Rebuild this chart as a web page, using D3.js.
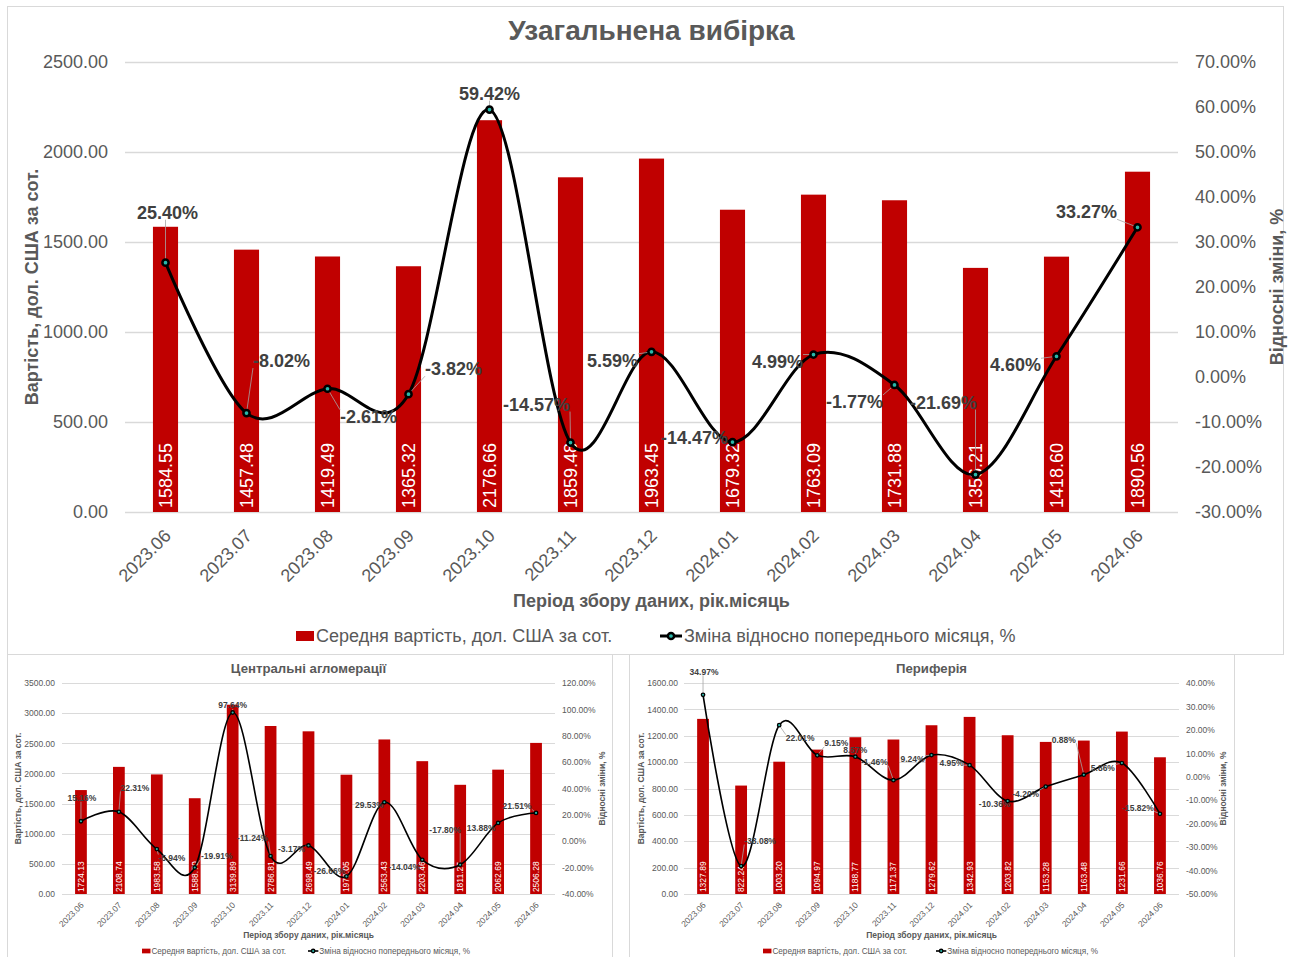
<!DOCTYPE html>
<html>
<head>
<meta charset="UTF-8">
<title>Узагальнена вибірка</title>
<style>
  body { margin: 0; background: #fff; }
  svg text { font-family: "Liberation Sans", Arial, sans-serif; }
</style>
</head>
<body>
<script src="https://cdnjs.cloudflare.com/ajax/libs/d3/7.8.5/d3.min.js"></script>
<script>
// ---- data ----
var months = ["2023.06", "2023.07", "2023.08", "2023.09", "2023.10", "2023.11", "2023.12",
              "2024.01", "2024.02", "2024.03", "2024.04", "2024.05", "2024.06"];

// Узагальнена вибірка
var allCost = [1584.55, 1457.48, 1419.49, 1365.32, 2176.66, 1859.48, 1963.45,
               1679.32, 1763.09, 1731.88, 1356.21, 1418.60, 1890.56];
var allChange = [25.40, -8.02, -2.61, -3.82, 59.42, -14.57, 5.59,
                 -14.47, 4.99, -1.77, -21.69, 4.60, 33.27];

// Центральні агломерації
var centerCost = [1724.13, 2108.74, 1983.58, 1588.70, 3139.89, 2786.81, 2698.49,
                  1979.05, 2563.43, 2203.46, 1811.27, 2062.69, 2506.28];
var centerChange = [15.16, 22.31, -5.94, -19.91, 97.64, -11.24, -3.17,
                    -26.66, 29.53, -14.04, -17.80, 13.88, 21.51];

// Периферія
var periphCost = [1327.89, 822.24, 1003.20, 1094.97, 1188.77, 1171.37, 1279.62,
                  1342.93, 1203.82, 1153.28, 1163.48, 1231.66, 1036.76];
var periphChange = [34.97, -38.08, 22.01, 9.15, 8.57, -1.46, 9.24,
                    4.95, -10.36, -4.20, 0.88, 5.86, -15.82];

// axis ranges [min, max, step]
var allLeftTicks = [0, 2500, 500], allRightTicks = [-30, 70, 10];
var centerLeftTicks = [0, 3500, 500], centerRightTicks = [-40, 120, 20];
var periphLeftTicks = [0, 1600, 200], periphRightTicks = [-50, 40, 10];

var barName = "Середня вартість, дол. США за сот.";
var lineName = "Зміна відносно попереднього місяця, %";
var xTitle = "Період збору даних, рік.місяць";
var yTitle = "Вартість, дол. США за сот.";
var y2Title = "Відносні зміни, %";

// where Excel put the % labels (offset from the point, px)
var allLabelPos = [[2,-50],[35,-52],[41,28],[45,-25],[0,-16],[-34,-38],[-39,9],
                   [-38,-4],[-36,7],[-40,17],[-32,-72],[-41,9],[-51,-15]];
var centerLabelPos = [[1,-23],[16,-24],[15,9],[22,-12],[0,-7],[-18,-18],[-17,4],
                      [-17,-5],[-15,3],[-18,7],[-15,-35],[-17,5],[-19,-7]];
var periphLabelPos = [[1,-23],[19,-25],[21,13],[19,-12],[0,-7],[-19,-18],[-19,4],
                      [-18,-2],[-13,3],[-20,7],[-20,-35],[-19,5],[-22,-6]];

// plain hyphen for negatives, like Excel
var fmt = d3.formatLocale({decimal: ".", thousands: "", grouping: [3], currency: ["", ""], minus: "-"}).format(".2f");

var W = 1294, H = 957;
var svg = d3.select("body").append("svg").attr("width", W).attr("height", H);

// panel frames
var frames = [[7, 6, 1276, 648], [7, 654, 605, 310], [629, 654, 605, 310]];
svg.selectAll(".frame").data(frames).enter().append("rect")
  .attr("x", function(d) { return d[0] + 0.5; })
  .attr("y", function(d) { return d[1] + 0.5; })
  .attr("width", function(d) { return d[2]; })
  .attr("height", function(d) { return d[3]; })
  .attr("fill", "none").attr("stroke", "#d9d9d9");

function tickList(t) { return d3.range(t[0], t[1] + t[2] / 2, t[2]); }

function drawPanel(o) {
  var k = o.scale;
  var g = svg.append("g");
  var x = d3.scalePoint().domain(months).range([o.x0, o.x1]).padding(0.5);
  var y = d3.scaleLinear().domain([o.leftTicks[0], o.leftTicks[1]]).range([o.yBot, o.yTop]);
  var y2 = d3.scaleLinear().domain([o.rightTicks[0], o.rightTicks[1]]).range([o.yBot, o.yTop]);
  var bw = x.step() * 0.31;

  // title
  g.append("text").attr("x", (o.x0 + o.x1) / 2).attr("y", o.titleY)
    .attr("text-anchor", "middle").attr("font-size", o.titleSize).attr("font-weight", "bold")
    .attr("fill", "#595959").text(o.title);

  // gridlines
  g.selectAll(".grid").data(tickList(o.leftTicks)).enter().append("line")
    .attr("x1", o.x0).attr("x2", o.x1)
    .attr("y1", function(d) { return Math.round(y(d)) + 0.5; })
    .attr("y2", function(d) { return Math.round(y(d)) + 0.5; })
    .attr("stroke", "#d9d9d9").attr("stroke-width", 1.2 * k + 0.4);

  // left axis
  var ax = g.append("g").attr("transform", "translate(" + o.x0 + ",0)")
    .call(d3.axisLeft(y).tickValues(tickList(o.leftTicks)).tickFormat(fmt)
      .tickSize(0).tickPadding(o.x0 - o.leftLabelX));
  // right axis
  var ax2 = g.append("g").attr("transform", "translate(" + o.x1 + ",0)")
    .call(d3.axisRight(y2).tickValues(tickList(o.rightTicks))
      .tickFormat(function(d) { return fmt(d) + "%"; })
      .tickSize(0).tickPadding(o.rightLabelX - o.x1));
  // bottom axis
  var ax3 = g.append("g").attr("transform", "translate(0," + o.yBot + ")")
    .call(d3.axisBottom(x).tickSize(0));
  ax3.selectAll("text")
    .attr("x", 0).attr("y", 0).attr("dy", 0)
    .attr("text-anchor", "end")
    .attr("transform", "translate(" + (6 * k) + "," + (25 * k) + ") rotate(-45)");
  [ax, ax2, ax3].forEach(function(a) {
    a.select(".domain").remove();
    a.selectAll("text").attr("font-size", o.tickSize).attr("fill", "#595959")
      .attr("font-family", "Liberation Sans, Arial, sans-serif");
  });

  // bars
  g.selectAll(".bar").data(o.cost).enter().append("rect")
    .attr("x", function(d, i) { return x(months[i]) - bw / 2; })
    .attr("y", function(d) { return y(d); })
    .attr("width", bw)
    .attr("height", function(d) { return o.yBot - y(d); })
    .attr("fill", "#c00000");

  // bar values
  g.selectAll(".barval").data(o.cost).enter().append("text")
    .attr("transform", function(d, i) {
      return "translate(" + x(months[i]) + "," + (o.yBot - 4 * k) + ") rotate(-90)";
    })
    .attr("dominant-baseline", "central")
    .attr("font-size", o.tickSize).attr("fill", "#fff")
    .text(function(d) { return fmt(d); });

  // smoothed line
  var line = d3.line()
    .x(function(d, i) { return x(months[i]); })
    .y(function(d) { return y2(d); })
    .curve(d3.curveCardinal.tension(0));
  g.append("path").datum(o.change).attr("d", line)
    .attr("fill", "none").attr("stroke", "#000").attr("stroke-width", 2.6 * k + 0.4);

  // % labels with leader lines
  var leaders = g.append("g");
  var labels = g.selectAll(".pct").data(o.change).enter().append("text")
    .attr("x", function(d, i) { return x(months[i]) + o.labelPos[i][0]; })
    .attr("y", function(d, i) { return y2(d) + o.labelPos[i][1]; })
    .attr("text-anchor", "middle").attr("dominant-baseline", "central")
    .attr("font-size", o.tickSize).attr("font-weight", "bold").attr("fill", "#404040")
    .text(function(d) { return fmt(d) + "%"; });
  labels.each(function(d, i) {
    var b = this.getBBox();
    var px = x(months[i]), py = y2(d);
    var cx = Math.max(b.x, Math.min(px, b.x + b.width));
    var cy = Math.max(b.y + b.height * 0.15, Math.min(py, b.y + b.height * 0.85));
    if (Math.hypot(px - cx, py - cy) > 6 * k) {
      leaders.append("line").attr("x1", cx).attr("y1", cy).attr("x2", px).attr("y2", py)
        .attr("stroke", "#a6a6a6").attr("stroke-width", 0.8);
    }
  });

  // markers
  g.selectAll(".dot").data(o.change).enter().append("circle")
    .attr("cx", function(d, i) { return x(months[i]); })
    .attr("cy", function(d) { return y2(d); })
    .attr("r", 2.6 * k + 0.5)
    .attr("fill", "#2ab7a9").attr("stroke", "#000").attr("stroke-width", 2.2 * k + 0.3);

  // axis titles
  g.append("text").attr("x", (o.x0 + o.x1) / 2).attr("y", o.xTitleY)
    .attr("text-anchor", "middle").attr("font-size", o.axisTitleSize).attr("font-weight", "bold")
    .attr("fill", "#595959").text(xTitle);
  g.append("text")
    .attr("transform", "translate(" + o.yTitleX + "," + (o.yTop + o.yBot) / 2 + ") rotate(-90)")
    .attr("text-anchor", "middle").attr("dominant-baseline", "central")
    .attr("font-size", o.axisTitleSize).attr("font-weight", "bold")
    .attr("fill", "#595959").text(yTitle);
  g.append("text")
    .attr("transform", "translate(" + o.y2TitleX + "," + (o.yTop + o.yBot) / 2 + ") rotate(-90)")
    .attr("text-anchor", "middle").attr("dominant-baseline", "central")
    .attr("font-size", o.axisTitleSize).attr("font-weight", "bold")
    .attr("fill", "#595959").text(y2Title);

  // legend
  var lg = g.append("g").attr("transform", "translate(0," + o.legendY + ")");
  lg.append("rect").attr("x", o.legendX).attr("y", -5 * k).attr("width", 18 * k).attr("height", 10 * k)
    .attr("fill", "#c00000");
  lg.append("text").attr("x", o.legendX + 20 * k).attr("y", 0).attr("dominant-baseline", "central")
    .attr("font-size", o.legendSize).attr("fill", "#595959").text(barName);
  lg.append("line").attr("x1", o.legend2X).attr("x2", o.legend2X + 22 * k).attr("y1", 0).attr("y2", 0)
    .attr("stroke", "#000").attr("stroke-width", 2.6 * k + 0.4);
  lg.append("circle").attr("cx", o.legend2X + 11 * k).attr("cy", 0).attr("r", 2.6 * k + 0.5)
    .attr("fill", "#2ab7a9").attr("stroke", "#000").attr("stroke-width", 2.2 * k + 0.3);
  lg.append("text").attr("x", o.legend2X + 24 * k).attr("y", 0).attr("dominant-baseline", "central")
    .attr("font-size", o.legendSize).attr("fill", "#595959").text(lineName);
}

drawPanel({
  scale: 1, title: "Узагальнена вибірка", titleY: 40, titleSize: 28,
  x0: 125, x1: 1178, yTop: 62, yBot: 512,
  leftLabelX: 108, rightLabelX: 1195,
  leftTicks: allLeftTicks, rightTicks: allRightTicks,
  cost: allCost, change: allChange, labelPos: allLabelPos,
  tickSize: 18, axisTitleSize: 18, legendSize: 18,
  xTitleY: 607, yTitleX: 32, y2TitleX: 1277,
  legendY: 636, legendX: 296, legend2X: 660
});

drawPanel({
  scale: 0.47, title: "Центральні агломерації", titleY: 673, titleSize: 13.2,
  x0: 62, x1: 555, yTop: 683, yBot: 894,
  leftLabelX: 55, rightLabelX: 562,
  leftTicks: centerLeftTicks, rightTicks: centerRightTicks,
  cost: centerCost, change: centerChange, labelPos: centerLabelPos,
  tickSize: 8.5, axisTitleSize: 8.5, legendSize: 8.2,
  xTitleY: 938, yTitleX: 18, y2TitleX: 602,
  legendY: 951, legendX: 142, legend2X: 308
});

drawPanel({
  scale: 0.47, title: "Периферія", titleY: 673, titleSize: 13.2,
  x0: 684, x1: 1179, yTop: 683, yBot: 894,
  leftLabelX: 678, rightLabelX: 1186,
  leftTicks: periphLeftTicks, rightTicks: periphRightTicks,
  cost: periphCost, change: periphChange, labelPos: periphLabelPos,
  tickSize: 8.5, axisTitleSize: 8.5, legendSize: 8.2,
  xTitleY: 938, yTitleX: 641, y2TitleX: 1223,
  legendY: 951, legendX: 763, legend2X: 936
});
</script>
</body>
</html>
